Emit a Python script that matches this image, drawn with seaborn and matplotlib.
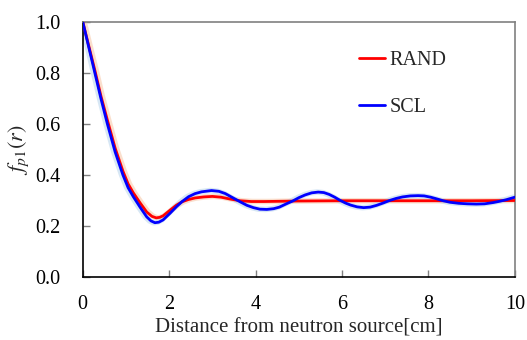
import pandas as pd
import numpy as np
import seaborn as sns
import matplotlib.pyplot as plt

# ==========================================
# DATA
# ==========================================

scl_x = [0, 0.14, 0.28, 0.42, 0.57, 0.75, 0.93, 1.05, 1.17, 1.33, 1.48, 1.58, 1.67,
         1.76, 1.86, 2.02, 2.17, 2.3, 2.45, 2.6, 2.75, 2.98, 3.15, 3.3, 3.47, 3.64,
         3.8, 3.95, 4.1, 4.26, 4.42, 4.55, 4.7, 4.87, 5.0, 5.15, 5.3, 5.45, 5.58,
         5.7, 5.83, 5.95, 6.08, 6.2, 6.35, 6.5, 6.65, 6.8, 6.95, 7.1, 7.25, 7.4,
         7.58, 7.76, 7.9, 8.05, 8.2, 8.34, 8.5, 8.7, 8.9, 9.11, 9.3, 9.5, 9.65,
         9.8, 10]
scl_y = [1.0, 0.9, 0.8, 0.7, 0.6, 0.49, 0.40, 0.35, 0.315, 0.273, 0.236, 0.220, 0.213,
         0.215, 0.224, 0.25, 0.276, 0.296, 0.315, 0.327, 0.334, 0.339, 0.336, 0.327,
         0.311, 0.295, 0.281, 0.272, 0.266, 0.265, 0.268, 0.274, 0.286, 0.299, 0.311,
         0.322, 0.330, 0.333, 0.331, 0.324, 0.313, 0.301, 0.290, 0.282, 0.275, 0.272,
         0.274, 0.281, 0.290, 0.300, 0.308, 0.314, 0.318, 0.319, 0.318, 0.313, 0.306,
         0.299, 0.293, 0.289, 0.287, 0.286, 0.287, 0.292, 0.297, 0.303, 0.313]

rand_x = [0, 0.14, 0.28, 0.42, 0.57, 0.75, 0.93, 1.05, 1.17, 1.33, 1.48, 1.6, 1.7,
          1.78, 1.86, 2.02, 2.17, 2.3, 2.45, 2.6, 2.8, 3.0, 3.2, 3.4, 3.64, 3.9,
          4.2, 5.0, 6.0, 7.0, 8.0, 9.0, 10]
rand_y = [1.0, 0.905, 0.81, 0.71, 0.615, 0.505, 0.415, 0.365, 0.33, 0.29, 0.255, 0.238,
          0.232, 0.234, 0.24, 0.262, 0.282, 0.295, 0.304, 0.310, 0.314, 0.316, 0.313,
          0.306, 0.299, 0.296, 0.296, 0.298, 0.299, 0.299, 0.299, 0.299, 0.300]

series_names = ["RAND", "SCL"]
series_colors = ["#ff0000", "#0000ff"]
band_colors = ["#f8cbad", "#bdd7ee"]

x_ticks = [0, 2, 4, 6, 8, 10]
y_ticks = [0.0, 0.2, 0.4, 0.6, 0.8, 1.0]

df = pd.concat([
    pd.DataFrame({"x": rand_x, "y": rand_y, "series": "RAND"}),
    pd.DataFrame({"x": scl_x, "y": scl_y, "series": "SCL"}),
])

# ==========================================
# PLOT
# ==========================================

sns.set_style("ticks")
plt.rcParams["font.family"] = ["Liberation Serif", "DejaVu Serif"]
plt.rcParams["mathtext.fontset"] = "stix"

fig = plt.figure(figsize=(5.27, 3.40), dpi=100)
ax = fig.add_axes([0.157, 0.185, 0.820, 0.751])

# soft halo under each curve
for name, col in zip(series_names, band_colors):
    sub = df[df["series"] == name]
    ax.plot(sub["x"] + (0.03 if name == "RAND" else -0.03), sub["y"],
            color=col, lw=4, alpha=0.6, solid_capstyle="round", zorder=1)

sns.lineplot(
    data=df,
    x="x",
    y="y",
    hue="series",
    hue_order=series_names,
    palette=series_colors,
    estimator=None,
    sort=False,
    linewidth=2,
    ax=ax,
    zorder=3
)

ax.set_xlim(0, 10)
ax.set_ylim(0, 1.0)
ax.set_xticks(x_ticks)
ax.set_yticks(y_ticks)
ax.set_xticklabels([str(t) for t in x_ticks])
ax.set_yticklabels([f"{t:.1f}" for t in y_ticks])

ax.tick_params(direction="in", length=5, width=1, color="#808080",
               labelsize=14.5, labelcolor="black")
ax.tick_params(axis="x", pad=13)
ax.tick_params(axis="y", pad=16)

for s in ["left", "bottom"]:
    ax.spines[s].set_color("black")
    ax.spines[s].set_linewidth(1.2)
for s in ["top", "right"]:
    ax.spines[s].set_color("#808080")
    ax.spines[s].set_linewidth(1.2)

ax.set_xlabel("Distance from neutron source[cm]", fontsize=15, labelpad=3)
ax.set_ylabel(r"$f_{p1}(r)$", fontsize=16, labelpad=3)

ax.legend(
    loc="upper left",
    bbox_to_anchor=(0.598, 0.957),
    frameon=False,
    fontsize=14.5,
    handlelength=1.3,
    handletextpad=0.2,
    labelspacing=1.4
)

plt.savefig("out.png", dpi=100)
